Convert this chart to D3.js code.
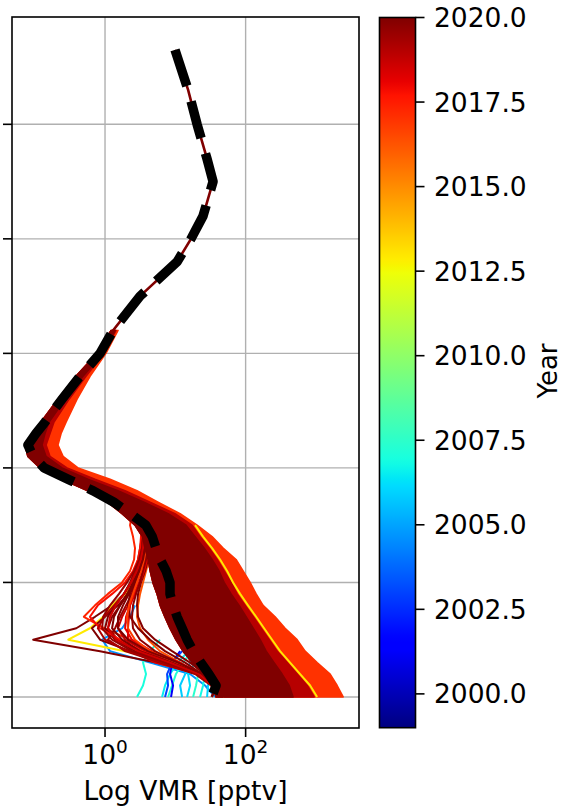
<!DOCTYPE html>
<html><head><meta charset="utf-8">
<script src="https://cdn.jsdelivr.net/npm/d3@7"></script>
<style>body{margin:0;background:#fff} text{font-family:"DejaVu Sans",sans-serif;fill:#000}</style>
</head><body><svg id="c" width="564" height="809"></svg>
<script>
// ---------------- data ----------------
const altitude = [0,1,2,3,4,5,6,7,8,9,10,11,12,13,14,15,16,17,18,19,20,21,22,23,24,26,28,30,32,35,38,40,42,45,47,50,53,56.5];
const meanVMR = [33,38,30,23,18,14.7,12.5,10.6,9.3,8.4,8.4,7.4,6.1,5.3,4.7,3.8,2.3,1.34,0.68,0.30,0.136,0.095,0.080,0.104,0.140,0.245,0.44,0.85,1.30,3.15,10.6,16.7,24.8,34.4,28.2,20.4,15.2,9.9];

const bandAltitude = [0,1,2,3,4,5,6,7,8,9,10,11,12,13,14,15,16,17,18,19,20,21,22,23,24,26,28,30,32];
const bandLow2020  = [38.0,33.3,24.8,17.3,12.9,10.2,8.4,7.1,6.1,5.5,4.8,4.4,4.1,3.7,3.4,2.67,1.75,1.10,0.57,0.245,0.119,0.080,0.073,0.092,0.123,0.214,0.386,0.77,1.22];
const bandHigh2020 = [473,416,330,254,196,161,128,101.5,80.7,62.1,49.4,41.9,33.3,25.6,19.1,14.2,7.9,3.59,1.53,0.57,0.245,0.145,0.127,0.140,0.160,0.270,0.486,0.937,1.39];
const bandHigh2019 = [943,750,540,389,280,216,166,128,98.3,75.6,62.1,49.4,39.3,30.2,22.5,17.3,9.9,4.37,1.93,0.72,0.288,0.165,0.145,0.165,0.188,0.308,0.536,0.968,1.43];
const bandHigh2017 = [2438,2004,1593,1040,702,540,364.5,262.6,177,141,115.8,92,73.1,47.8,33.3,20.4,11.7,5.68,2.85,1.18,0.413,0.253,0.214,0.237,0.279,0.40,0.612,1.03,1.53];
const bandYears = [2017.0, 2019.0, 2020.0];

const lowAltitude = [0,1,2,3,4,5,6,7,8,9,10,11,12,13,14,15,16];
const yellowRight = [1040,827,596,429,309,238,183,141,108,83.4,66.3,54.5,43.3,33.3,24.8,19.1];
const yellowRightYear = 2012.9;

const fanA = [43.3,35.6,21.8,5.32,0.85,0.095,0.39,0.72,1.26,1.86,2.27,2.67,2.95,3.15,3.36,3.71,4.37];
const fanB = [49.4,38.0,26.5,9.91,1.93,0.30,0.61,0.94,1.26,1.93,2.50,3.15,3.71,4.37,5.15,6.06,7.14];
const fanC = [49.4,36.8,24.8,9.91,4.37,2.27,0.97,0.50,0.72,1.10,1.75,2.27,2.59,2.67,2.50,2.27,2.42];
const fanD = [46.2,35.6,21.8,5.15,2.34,2.12,2.12,2.19,2.27,2.42,2.67,2.95,3.25,3.47,3.36,3.15,2.95];
const fanE = [44.8,34.4,21.1,8.42,3.15,1.53,1.10,1.26,1.64,2.12,2.59,3.05,3.36,3.59,3.71,3.83,4.09];
const fanF = [43.3,33.3,19.7,7.14,2.27,0.85,0.65,1.0,1.53,2.12,2.67,3.15,3.47,3.71,3.83,3.96,4.23];
const fanG = [41.9,32.2,19.1,6.06,1.93,1.10,1.39,1.64,1.99,2.42,2.85,3.25,3.59,3.83,3.96,4.09,4.37];
const fanH = [44.8,34.4,22.5,8.99,3.71,1.93,1.53,1.75,2.12,2.59,3.05,3.47,3.83,4.09,4.23,4.37,4.66];
const fanI = [43.3,33.3,21.1,11.7,6.06,4.09,3.15,2.85,2.95,3.15,3.47,3.83,4.23,4.51,4.66,4.82,5.15];
const fanJ = [46.2,35.6,24.0,13.8,7.14,4.37,2.95,2.27,2.12,2.27,2.67,3.15,3.71,4.09,4.37,4.66,4.98];
const fanK = [47.8,36.8,26.5,16.2,8.99,5.15,3.47,2.95,2.85,2.95,3.25,3.71,4.09,4.51,4.82,5.15,5.68];
const fanL = [44.8,35.6,23.2,11.7,4.66,2.42,1.93,1.99,2.27,2.67,3.15,3.59,3.96,4.23,4.37,4.51,4.82];
const fanM = [43.3,34.4,22.5,10.9,5.15,3.15,2.50,2.42,2.50,2.76,3.15,3.47,3.83,4.23,4.51,4.66,4.82];
const fanN = [44.8,34.4,21.8,7.88,2.67,1.39,1.0,1.10,1.39,1.86,2.34,2.85,3.25,3.47,3.59,3.71,3.96];
const fanO = [46.2,35.6,22.5,8.42,3.36,1.64,0.85,0.61,0.79,1.26,1.93,2.50,2.95,3.15,3.25,3.36,3.71];
const fanP = [43.3,33.3,20.4,6.48,2.12,1.0,0.79,0.97,1.34,1.86,2.34,2.76,3.15,3.36,3.47,3.59,3.83];
const fanQ = [44.8,34.4,22.5,9.91,4.37,2.67,2.12,2.06,2.19,2.50,2.85,3.25,3.59,3.83,3.96,3.96,4.09];
const fanR = [46.2,35.6,23.2,8.99,3.15,1.75,1.26,1.34,1.64,2.06,2.50,2.95,3.36,3.59,3.71,3.83,4.09];
const fanS = [44.8,34.4,21.1,7.14,2.42,1.26,0.91,0.94,1.18,1.58,2.06,2.59,3.05,3.36,3.47,3.59,3.83];
const fanT = [43.3,33.3,21.8,8.42,2.95,1.43,1.10,1.18,1.43,1.86,2.34,2.85,3.25,3.47,3.59,3.71,3.96];
const fanU = [47.8,36.8,24.8,10.9,4.09,2.12,1.53,1.53,1.80,2.19,2.59,3.05,3.47,3.71,3.83,3.96,4.23];
const fanProfiles = [fanA,fanB,fanC,fanD,fanE,fanF,fanG,fanH,fanI,fanJ,fanK,fanL,fanM,fanN,fanO,fanP,fanQ,fanR,fanS,fanT,fanU];
const fanYears    = [2020.0,2012.9,2017.3,2018.4,2019.8,2020.0,2019.5,2018.8,2016.3,2020.0,2019.9,2018.1,2019.7,2020.0,2017.8,2019.2,2016.8,2020.0,2019.6,2018.6,2020.0];

const oldBlue2004 = [36.8,26.5,16.2,4.37,1.18,0.91,1.75,2.27,2.67];
const oldC1 = [2.85,3.47,3.83,3.47,4.37,6.06];
const oldC2 = [6.48,7.14,8.42,10.9,15.2,19.1];
const oldC3 = [7.88,8.99,10.2,12.9,17.3,22.5];
const oldC4 = [12.5,11.7,13.8,16.2,19.7,24.8];
const oldC5 = [14.7,16.2,15.2,19.1,24.8,29.2];
const oldC6 = [17.9,19.7,21.1,24.0,27.4,31.2];
const oldC7 = [22.5,24.8,26.5,28.3,31.2,34.4];
const oldC8 = [28.3,29.2,31.2,33.3,35.6,38.0];
const oldB1 = [8.69,9.28,8.42,8.99,11.7];
const oldB2 = [7.14,7.88,7.63,8.99,12.5];
const oldProfiles = [oldBlue2004,oldC1,oldC2,oldC3,oldC4,oldC5,oldC6,oldC7,oldC8,oldB1,oldB2];
const oldYears    = [2004.6,2007.0,2006.5,2007.2,2005.8,2006.2,2007.4,2006.8,2006.0,2001.2,2003.0];

const xTickValues = [1, 100];
const xTickExponents = ["0", "2"];
const yTickValues = [0,10,20,30,40,50];
const cbTicks = [2000,2002.5,2005,2007.5,2010,2012.5,2015,2017.5,2020];
const yearRange = [1999, 2020];

// ---------------- chart ----------------
const svg = d3.select("#c");
const L = 12, R = 359, T = 17, B = 728;
const x = d3.scaleLog().domain([0.0475, 4100]).range([L, R]);
const y = d3.scaleLinear().domain([-2.71, 59.37]).range([B, T]);

function jet(t){
  t = Math.max(0, Math.min(1, t));
  const f = pts => { for (let i=1;i<pts.length;i++){ if (t<=pts[i][0]){ const [a0,b0]=pts[i-1],[a1,b1]=pts[i]; return b0+(b1-b0)*(t-a0)/(a1-a0);} } return pts[pts.length-1][1]; };
  const r = f([[0,0],[0.35,0],[0.66,1],[0.89,1],[1,0.5]]);
  const g = f([[0,0],[0.125,0],[0.375,1],[0.64,1],[0.91,0],[1,0]]);
  const b = f([[0,0.5],[0.11,1],[0.34,1],[0.65,0],[1,0]]);
  return d3.rgb(r*255, g*255, b*255).formatHex();
}
const color = yr => jet((yr - yearRange[0])/(yearRange[1]-yearRange[0]));

svg.append("clipPath").attr("id","clip").append("rect").attr("x",L).attr("y",T).attr("width",R-L).attr("height",B-T);

// grid
const grid = svg.append("g").attr("stroke","#b0b0b0").attr("stroke-width",1.4);
xTickValues.forEach(v => grid.append("line").attr("x1",x(v)).attr("x2",x(v)).attr("y1",T).attr("y2",B));
yTickValues.forEach(v => grid.append("line").attr("x1",L).attr("x2",R).attr("y1",y(v)).attr("y2",y(v)));

const plot = svg.append("g").attr("clip-path","url(#clip)");

const area = hi => d3.area().x0((d,i)=>x(bandLow2020[i])).x1((d,i)=>x(hi[i])).y(d=>y(d));
function drawBand(hi, yr){
  plot.append("path").datum(bandAltitude).attr("d", area(hi))
    .attr("fill", color(yr)).attr("stroke", color(yr)).attr("stroke-width",1.6).attr("stroke-linejoin","round");
}
const line = vals => d3.line().x((d,i)=>x(vals[i])).y(d=>y(d));
function drawProfile(vals, yr){
  plot.append("path").datum(lowAltitude.slice(0, vals.length)).attr("d", line(vals))
    .attr("fill","none").attr("stroke", color(yr)).attr("stroke-width",2).attr("stroke-linejoin","round");
}

drawBand(bandHigh2017, bandYears[0]);
drawBand(bandHigh2019, bandYears[1]);
drawProfile(yellowRight, yellowRightYear);
oldProfiles.forEach((p,i)=>drawProfile(p, oldYears[i]));
fanProfiles.forEach((p,i)=>drawProfile(p, fanYears[i]));
drawBand(bandHigh2020, bandYears[2]);

// shared profile line (all years coincide above)
plot.append("path").datum(altitude).attr("d", line(meanVMR))
  .attr("fill","none").attr("stroke", color(2020)).attr("stroke-width",2.6);

// mean profile, dashed black (drawn from the top)
const revAlt = altitude.slice().reverse(), revMean = meanVMR.slice().reverse();
plot.append("path").datum(revAlt).attr("d", line(revMean))
  .attr("fill","none").attr("stroke","#000").attr("stroke-width",9.5)
  .attr("stroke-dasharray","38,16").attr("stroke-linecap","butt").attr("stroke-linejoin","round");

// spines
svg.append("rect").attr("x",L).attr("y",T).attr("width",R-L).attr("height",B-T)
  .attr("fill","none").attr("stroke","#000").attr("stroke-width",1.6);

yTickValues.forEach(v => svg.append("line").attr("x1",L-9).attr("x2",L).attr("y1",y(v)).attr("y2",y(v)).attr("stroke","#000").attr("stroke-width",1.6));
xTickValues.forEach((v,i) => {
  svg.append("line").attr("x1",x(v)).attr("x2",x(v)).attr("y1",B).attr("y2",B+9).attr("stroke","#000").attr("stroke-width",1.6);
  const t = svg.append("text").attr("x",x(v)).attr("y",764).attr("text-anchor","middle").attr("font-size",26.5);
  t.append("tspan").text("10");
  t.append("tspan").attr("dy",-11).attr("font-size",18.5).text(xTickExponents[i]);
});
svg.append("text").attr("x",(L+R)/2).attr("y",800).attr("text-anchor","middle").attr("font-size",26.5).text("Log VMR [pptv]");

// colorbar
const cbL = 379.5, cbR = 415.5;
const cy = d3.scaleLinear().domain(yearRange).range([727.7, 17.5]);
const grad = svg.append("defs").append("linearGradient").attr("id","jet").attr("x1",0).attr("y1",1).attr("x2",0).attr("y2",0);
d3.range(0, 1.0001, 0.01).forEach(t => grad.append("stop").attr("offset",t).attr("stop-color", jet(t)));
svg.append("rect").attr("x",cbL).attr("y",cy(yearRange[1])).attr("width",cbR-cbL).attr("height",cy(yearRange[0])-cy(yearRange[1]))
  .attr("fill","url(#jet)").attr("stroke","#000").attr("stroke-width",1.6);
cbTicks.forEach(v => {
  svg.append("line").attr("x1",cbR).attr("x2",cbR+9).attr("y1",cy(v)).attr("y2",cy(v)).attr("stroke","#000").attr("stroke-width",1.6);
  svg.append("text").attr("x",434).attr("y",cy(v)).attr("dy","0.36em").attr("font-size",26.5).text(d3.format(".1f")(v));
});
svg.append("text").attr("transform","translate(557,371) rotate(-90)").attr("text-anchor","middle").attr("font-size",26).text("Year");
</script></body></html>
